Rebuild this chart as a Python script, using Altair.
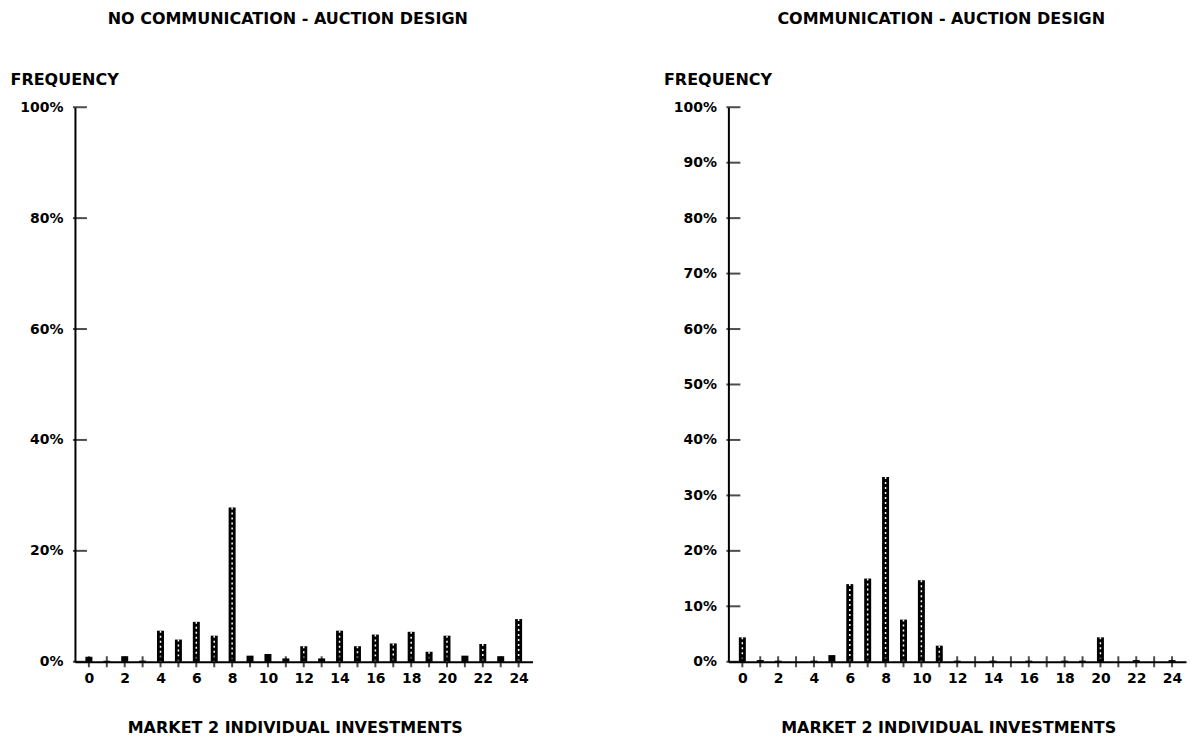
import altair as alt
import pandas as pd

investments = [0, 1, 2, 3, 4, 5, 6, 7, 8, 9, 10, 11, 12, 13, 14, 15, 16, 17, 18, 19, 20, 21, 22, 23, 24]
x_labels = [0, 2, 4, 6, 8, 10, 12, 14, 16, 18, 20, 22, 24]
no_comm = [0.9, 0.2, 1.0, 0.2, 5.6, 4.0, 7.2, 4.7, 27.8, 1.1, 1.4, 0.6, 2.8, 0.6, 5.6, 2.8,
           4.9, 3.3, 5.4, 1.8, 4.7, 1.1, 3.2, 1.0, 7.7]
comm = [4.4, 0.3, 0.2, 0.0, 0.2, 1.2, 14.0, 15.0, 33.3, 7.6, 14.7, 2.9, 0.2, 0.0, 0.2, 0.0,
        0.2, 0.0, 0.2, 0.2, 4.4, 0.0, 0.3, 0.0, 0.3]
left_ticks = [0, 20, 40, 60, 80, 100]
right_ticks = [0, 10, 20, 30, 40, 50, 60, 70, 80, 90, 100]
titles = ["NO COMMUNICATION - AUCTION DESIGN", "COMMUNICATION - AUCTION DESIGN"]
x_title = "MARKET 2 INDIVIDUAL INVESTMENTS"
y_title = "FREQUENCY"
x_domain = [-0.5, 24.5]
y_domain = [0, 100]

FONT = "DejaVu Sans"


def panel(vals, title, yticks):
    df = pd.DataFrame({"inv": investments, "freq": vals})
    base = alt.Chart(df)
    x = alt.X(
        "inv:Q",
        scale=alt.Scale(domain=x_domain, nice=False, zero=False),
        axis=alt.Axis(
            values=x_labels,
            tickCount=40,
            format="d",
            labelOverlap=False,
            labelFlush=False,
            title=x_title,
            titleX=220,
            titlePadding=34,
            labelPadding=10,
            ticks=False,
            grid=False,
        ),
    )
    y = alt.Y(
        "freq:Q",
        scale=alt.Scale(domain=y_domain, nice=False),
        axis=alt.Axis(
            values=yticks,
            tickCount=40,
            format="d",
            labelExpr="datum.label + '%'",
            labelOverlap=False,
            labelFlush=False,
            title=y_title,
            titleAngle=0,
            titleX=-65,
            titleY=-28,
            titleAlign="left",
            titleBaseline="middle",
            ticks=False,
            labelPadding=12,
            grid=False,
        ),
    )
    bars = base.mark_bar(color="black", width=7).encode(x=x, y=y)
    dashes = (
        base.transform_filter("datum.freq > 1.5")
        .mark_rule(color="white", strokeWidth=1.5, strokeDash=[2, 3])
        .encode(x="inv:Q", y="freq:Q", y2=alt.datum(0))
    )
    xt = (
        alt.Chart(pd.DataFrame({"inv": investments}))
        .mark_tick(orient="vertical", color="black", size=11, thickness=2)
        .encode(x="inv:Q", y=alt.datum(y_domain[0]))
    )
    yt = (
        alt.Chart(pd.DataFrame({"freq": yticks}))
        .mark_tick(orient="horizontal", color="black", size=14, thickness=2)
        .encode(y="freq:Q", x=alt.datum(x_domain[0]))
    )
    return alt.layer(bars, dashes, xt, yt).properties(
        width=458,
        height=555,
        title=alt.TitleParams(
            title, font=FONT, fontSize=16, fontWeight="bold", color="black",
            anchor="middle", offset=44, dx=-16,
        ),
    )


chart = (
    alt.hconcat(
        panel(no_comm, titles[0], left_ticks),
        panel(comm, titles[1], right_ticks),
        spacing=131,
    )
    .properties(padding={"left": 2, "top": 3, "right": 2, "bottom": 2})
    .configure_view(stroke=None)
    .configure_axis(
        domainColor="black",
        domainWidth=2,
        labelFont=FONT,
        labelFontWeight="bold",
        labelFontSize=14,
        labelColor="black",
        titleFont=FONT,
        titleFontWeight="bold",
        titleFontSize=16,
        titleColor="black",
    )
)

chart.save("out.html", embed_options={"renderer": "svg", "actions": False})
